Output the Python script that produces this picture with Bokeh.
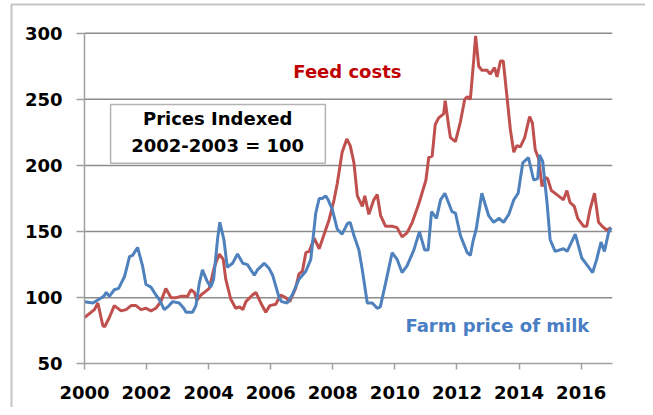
from bokeh.plotting import figure
from bokeh.models import Label, BoxAnnotation, FixedTicker, Range1d
from bokeh.embed import file_html
from bokeh.resources import INLINE

# ---- data ----
milk_t = [2000.00, 2000.27, 2000.48, 2000.62, 2000.70, 2000.80, 2000.96, 2001.10, 2001.29, 2001.45,
          2001.55, 2001.71, 2001.87, 2001.98, 2002.14, 2002.30, 2002.40, 2002.57, 2002.68, 2002.84,
          2003.05, 2003.20, 2003.27, 2003.48, 2003.59, 2003.70, 2003.80, 2003.96, 2004.07, 2004.16,
          2004.29, 2004.36, 2004.49, 2004.60, 2004.77, 2004.93, 2005.10, 2005.25, 2005.47, 2005.57,
          2005.79, 2005.95, 2006.06, 2006.27, 2006.35, 2006.53, 2006.69, 2006.91, 2007.13, 2007.29,
          2007.45, 2007.56, 2007.66, 2007.77, 2007.85, 2007.98, 2008.14, 2008.30, 2008.47, 2008.56,
          2008.68, 2008.84, 2008.95, 2009.11, 2009.27, 2009.43, 2009.53, 2009.70, 2009.91, 2010.07,
          2010.23, 2010.39, 2010.61, 2010.79, 2010.96, 2011.07, 2011.18, 2011.34, 2011.47, 2011.61,
          2011.84, 2011.95, 2012.11, 2012.33, 2012.43, 2012.52, 2012.62, 2012.80, 2013.02, 2013.18,
          2013.36, 2013.50, 2013.67, 2013.83, 2013.97, 2014.12, 2014.30, 2014.47, 2014.60, 2014.66,
          2014.76, 2014.90, 2015.00, 2015.16, 2015.43, 2015.55, 2015.81, 2016.02, 2016.18, 2016.37,
          2016.50, 2016.64, 2016.75, 2016.88, 2016.96]
milk_v = [97, 96, 99, 101, 104, 101, 106, 107, 116, 131,
          132, 138, 124, 110, 108, 102, 99, 91, 93, 97,
          96, 92, 89, 89, 94, 111, 121, 112, 108, 114,
          145, 157, 144, 123, 126, 133, 126, 125, 117, 121,
          126, 122, 117, 100, 97, 96, 102, 114, 120, 129,
          164, 175, 175, 177, 174, 167, 152, 148, 156, 157,
          147, 136, 121, 96, 96, 92, 93, 111, 134, 129,
          119, 124, 136, 150, 136, 136, 165, 160, 174, 179,
          165, 164, 147, 134, 132, 143, 152, 179, 162, 157,
          160, 157, 163, 174, 179, 202, 206, 189, 190, 208,
          203, 172, 144, 135, 137, 135, 148, 130, 125, 119,
          129, 142, 135, 149, 153]

feed_t = [2000.00, 2000.32, 2000.43, 2000.59, 2000.65, 2000.80, 2000.96, 2001.18, 2001.34, 2001.50,
          2001.66, 2001.82, 2001.98, 2002.14, 2002.30, 2002.46, 2002.62, 2002.79, 2002.95, 2003.10,
          2003.32, 2003.43, 2003.54, 2003.62, 2003.75, 2003.86, 2004.02, 2004.18, 2004.34, 2004.47,
          2004.55, 2004.71, 2004.87, 2005.00, 2005.10, 2005.20, 2005.41, 2005.52, 2005.68, 2005.84,
          2005.97, 2006.16, 2006.32, 2006.48, 2006.61, 2006.80, 2006.91, 2007.02, 2007.13, 2007.24,
          2007.40, 2007.56, 2007.72, 2007.88, 2008.04, 2008.14, 2008.30, 2008.45, 2008.56, 2008.68,
          2008.79, 2008.95, 2009.03, 2009.16, 2009.32, 2009.43, 2009.54, 2009.70, 2009.91, 2010.07,
          2010.23, 2010.39, 2010.56, 2010.77, 2011.00, 2011.09, 2011.20, 2011.30, 2011.41, 2011.57,
          2011.62, 2011.73, 2011.79, 2011.95, 2012.11, 2012.25, 2012.33, 2012.43, 2012.54, 2012.60,
          2012.70, 2012.80, 2012.97, 2013.07, 2013.21, 2013.29, 2013.40, 2013.49, 2013.61, 2013.72,
          2013.83, 2013.93, 2014.04, 2014.18, 2014.34, 2014.43, 2014.52, 2014.63, 2014.74, 2014.84,
          2014.92, 2015.04, 2015.27, 2015.43, 2015.54, 2015.64, 2015.78, 2015.89, 2016.08, 2016.18,
          2016.29, 2016.43, 2016.56, 2016.68, 2016.83, 2016.96]
feed_v = [85, 91, 96, 79, 78, 85, 94, 90, 91, 94,
          94, 91, 92, 90, 92, 97, 107, 100, 100, 101,
          101, 106, 104, 98, 102, 104, 107, 123, 133, 129,
          114, 99, 92, 93, 91, 97, 102, 104, 96, 89,
          94, 95, 102, 100, 97, 107, 118, 120, 134, 135,
          145, 137, 148, 159, 174, 186, 210, 220, 215, 202,
          177, 169, 177, 163, 174, 178, 162, 154, 154, 153,
          146, 149, 157, 171, 189, 206, 207, 231, 236, 239,
          249, 230, 221, 218, 233, 250, 252, 250, 280, 298,
          275, 272, 272, 269, 274, 267, 279, 279, 252, 227,
          210, 215, 214, 221, 237, 232, 212, 205, 184, 191,
          190, 181, 177, 174, 181, 172, 169, 160, 154, 154,
          167, 179, 157, 154, 151, 153]

y_ticks = [50, 100, 150, 200, 250, 300]
x_ticks = [2000, 2002, 2004, 2006, 2008, 2010, 2012, 2014, 2016]
x_start, x_end = 2000, 2017
y_start, y_end = 50, 300

FONT = "DejaVu Sans"
RED = "#C0504D"
BLUE = "#4F81BD"
GRID = "#8C8C8C"
AXIS = "#A0A0A0"

# canvas geometry (pixels): plot area from x=84..611.7, y=32.7..363.3
W, H = 645, 407
L, R, T, B = 84.0, 611.7, 32.7, 363.3
xs = (R - L) / (x_end - x_start)
ys = (B - T) / (y_end - y_start)
xr = Range1d(x_start - L / xs, x_end + (W - R) / xs)
yr = Range1d(y_start - (H - B) / ys, y_end + T / ys)

p = figure(width=W, height=H, output_backend="svg", toolbar_location=None,
           x_range=xr, y_range=yr,
           min_border_left=0, min_border_right=0, min_border_top=0, min_border_bottom=0)
p.outline_line_color = None
p.background_fill_color = "white"
p.grid.visible = False

# horizontal grid lines inside the plot area
gy = [t for t in y_ticks if t > y_start]
p.segment(x0=[x_start] * len(gy), x1=[x_end] * len(gy), y0=gy, y1=gy,
          line_color=GRID, line_width=1.5)

for ax in (p.xaxis[0], p.yaxis[0]):
    ax.axis_line_color = AXIS
    ax.axis_line_width = 1.5
    ax.major_tick_line_color = AXIS
    ax.major_tick_line_width = 1.5
    ax.minor_tick_line_color = None
    ax.major_tick_in = 0
    ax.major_label_text_font = FONT
    ax.major_label_text_font_style = "bold"
    ax.major_label_text_font_size = "18px"
    ax.major_label_text_color = "black"

p.yaxis.ticker = FixedTicker(ticks=y_ticks)
p.yaxis.fixed_location = x_start
p.yaxis.bounds = (y_start, y_end)
p.yaxis.major_tick_out = 8
p.yaxis.major_label_standoff = 14
p.xaxis.ticker = FixedTicker(ticks=x_ticks)
p.xaxis.fixed_location = y_start
p.xaxis.bounds = (x_start, x_end)
p.xaxis.major_tick_out = 6
p.xaxis.major_label_standoff = 16

p.line(feed_t, feed_v, line_color=RED, line_width=3)
p.line(milk_t, milk_v, line_color=BLUE, line_width=3)

# outer picture border: only its top and left edges are in view
outer = BoxAnnotation(left=xr.start + 11 / xs, right=xr.end + 50, top=yr.end - 4 / ys,
                      bottom=yr.start - 500, fill_alpha=0, line_color="#3C3C3C", line_width=2)
p.add_layout(outer)

box = BoxAnnotation(left=2000.84, right=2007.76, bottom=201.7, top=246.1,
                    fill_color="white", fill_alpha=1.0, line_color="black", line_width=1.5)
p.add_layout(box)

def lab(x, y, t, c):
    p.add_layout(Label(x=x, y=y, text=t, text_align="center", text_baseline="middle",
                       text_font=FONT, text_font_style="bold", text_font_size="18px",
                       text_color=c))

lab(2004.29, 235.5, "Prices Indexed", "black")
lab(2004.29, 215.3, "2002-2003 = 100", "black")
lab(2008.47, 271.0, "Feed costs", "#C00000")
lab(2013.3, 79.0, "Farm price of milk", "#4A7EC4")

open("out.html", "w").write(file_html(p, INLINE))
